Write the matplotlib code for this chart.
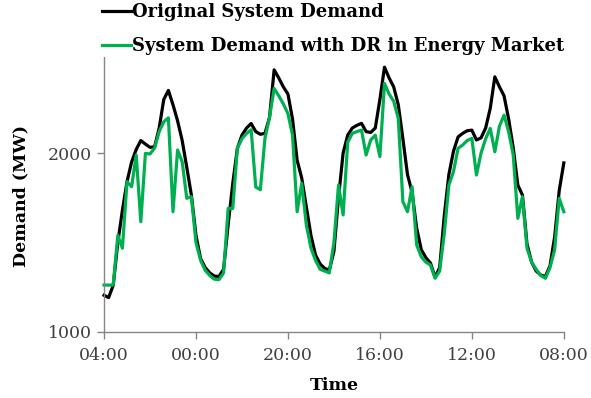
import numpy as np
import matplotlib.pyplot as plt

# hourly demand (MW), 04:00 on day 1 to 08:00 five days later
original = [1205, 1192, 1260, 1500, 1680, 1840, 1950, 2020, 2070, 2050,
            2032, 2035, 2140, 2300, 2350, 2270, 2180, 2070, 1920, 1765,
            1540, 1410, 1360, 1330, 1312, 1310, 1350, 1600, 1830, 2026,
            2100, 2140, 2165, 2120, 2105, 2110, 2200, 2465, 2420, 2370,
            2330, 2190, 1960, 1860, 1700, 1540, 1430, 1380, 1355, 1346,
            1450, 1750, 2000, 2100, 2140, 2155, 2166, 2120, 2115, 2140,
            2300, 2480, 2420, 2370, 2270, 2080, 1880, 1780, 1580, 1460,
            1415, 1385, 1305, 1360, 1650, 1880, 2010, 2090, 2110, 2125,
            2128, 2073, 2085, 2140, 2250, 2426, 2370, 2320, 2190, 2030,
            1821, 1765, 1490, 1390, 1340, 1318, 1310, 1370, 1530, 1790,
            1945]
with_dr = [1262, 1262, 1262, 1540, 1468, 1840, 1812, 1989, 1616, 1998,
           1995, 2028, 2120, 2175, 2197, 1672, 2017, 1951, 1747, 1756,
           1500, 1400, 1345, 1315, 1295, 1292, 1330, 1691, 1690, 2026,
           2080, 2110, 2130, 1810, 1795, 2082, 2200, 2361, 2320, 2275,
           2220, 2100, 1672, 1831, 1598, 1470, 1400, 1350, 1340, 1330,
           1500, 1821, 1654, 2060, 2110, 2120, 2128, 1989, 2073, 2100,
           1980, 2389, 2330, 2290, 2194, 1728, 1672, 1812, 1486, 1420,
           1390, 1374, 1300, 1340, 1550, 1821, 1896, 2026, 2045, 2070,
           2082, 1877, 2000, 2080, 2138, 2007, 2150, 2212, 2119, 1989,
           1635, 1756, 1468, 1390, 1350, 1315, 1300, 1360, 1460, 1747,
           1672]
tick_pos = [0, 20, 40, 60, 80, 100]
tick_labels = ['04:00', '00:00', '20:00', '16:00', '12:00', '08:00']

hours = np.arange(len(original))

fig = plt.figure(figsize=(5.91, 3.98), dpi=100)
ax = fig.add_axes([0.176, 0.166, 0.778, 0.809])

ax.plot(hours, original, color='black', lw=2.3, label='Original System Demand',
        clip_on=False, solid_joinstyle='round')
ax.plot(hours, with_dr, color='#00B050', lw=2.3,
        label='System Demand with DR in Energy Market',
        clip_on=False, solid_joinstyle='round')

ax.set_xlim(0, 100)
ax.set_ylim(1000, 2800)
ax.set_yticks([1000, 2000])
ax.set_xticks(tick_pos)
ax.set_xticklabels(tick_labels)

for s in ['top', 'right']:
    ax.spines[s].set_visible(False)
for s in ['left', 'bottom']:
    ax.spines[s].set_color('#868686')
    ax.spines[s].set_linewidth(1.0)
ax.tick_params(colors='#868686', length=5, width=1.0, labelcolor='#404040',
               labelsize=12.5)
ax.tick_params(axis='x', pad=6)
for lbl in ax.get_xticklabels() + ax.get_yticklabels():
    lbl.set_family('DejaVu Serif')

ax.set_xlabel('Time', fontsize=12.5, fontweight='bold', family='DejaVu Serif',
              labelpad=9)
ax.set_ylabel('Demand (MW)', fontsize=12.5, fontweight='bold', family='DejaVu Serif')
ax.yaxis.set_label_coords(-0.162, 0.422)

leg = fig.legend(loc='upper left', bbox_to_anchor=(100 / 591, 0.997),
                 frameon=True, handlelength=1.6, handletextpad=0.1,
                 labelspacing=0.9, borderpad=0.1, borderaxespad=0,
                 prop={'family': 'DejaVu Serif', 'weight': 'bold', 'size': 13})
leg.get_frame().set_edgecolor('none')
leg.get_frame().set_facecolor('white')
leg.get_frame().set_alpha(1)

fig.savefig('out.png', dpi=100)
